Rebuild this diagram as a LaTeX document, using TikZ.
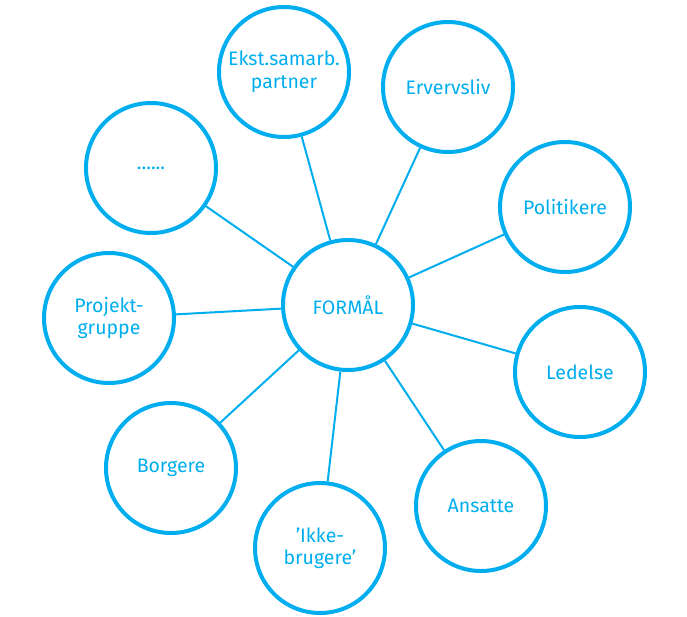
\documentclass[tikz,border=0pt]{standalone}
\usepackage{fontspec}
\setmainfont{Fira Sans}
\definecolor{cyanline}{HTML}{00AEEF}
\begin{document}
\begin{tikzpicture}[x=1pt,y=-1pt,
  bubble/.style={circle, draw=cyanline, line width=4pt, minimum size=130pt,
    inner sep=0pt, text=cyanline, align=center,
    font=\fontsize{19.5}{22.5}\selectfont},
  link/.style={draw=cyanline, line width=2pt}]
\useasboundingbox (0,0) rectangle (687,616);
\node[bubble] (c)    at (348,305) {FORMÅL};
\node[bubble] (ekst) at (284,72)  {Ekst.samarb.\\partner};
\node[bubble] (erv)  at (448,87)  {Ervervsliv};
\node[bubble] (pol)  at (565,207) {Politikere};
\node[bubble] (led)  at (580,372) {Ledelse};
\node[bubble] (ans)  at (481,506) {Ansatte};
\node[bubble] (ikke) at (320,548) {’Ikke-\\brugere’};
\node[bubble] (borg) at (171,468) {Borgere};
\node[bubble] (proj) at (109,318) {Projekt-\\gruppe};
\node[bubble] (dots) at (151,168) {......};
\foreach \n in {ekst,erv,pol,led,ans,ikke,borg,proj,dots}
  \draw[link] (c) -- (\n);
\end{tikzpicture}
\end{document}
